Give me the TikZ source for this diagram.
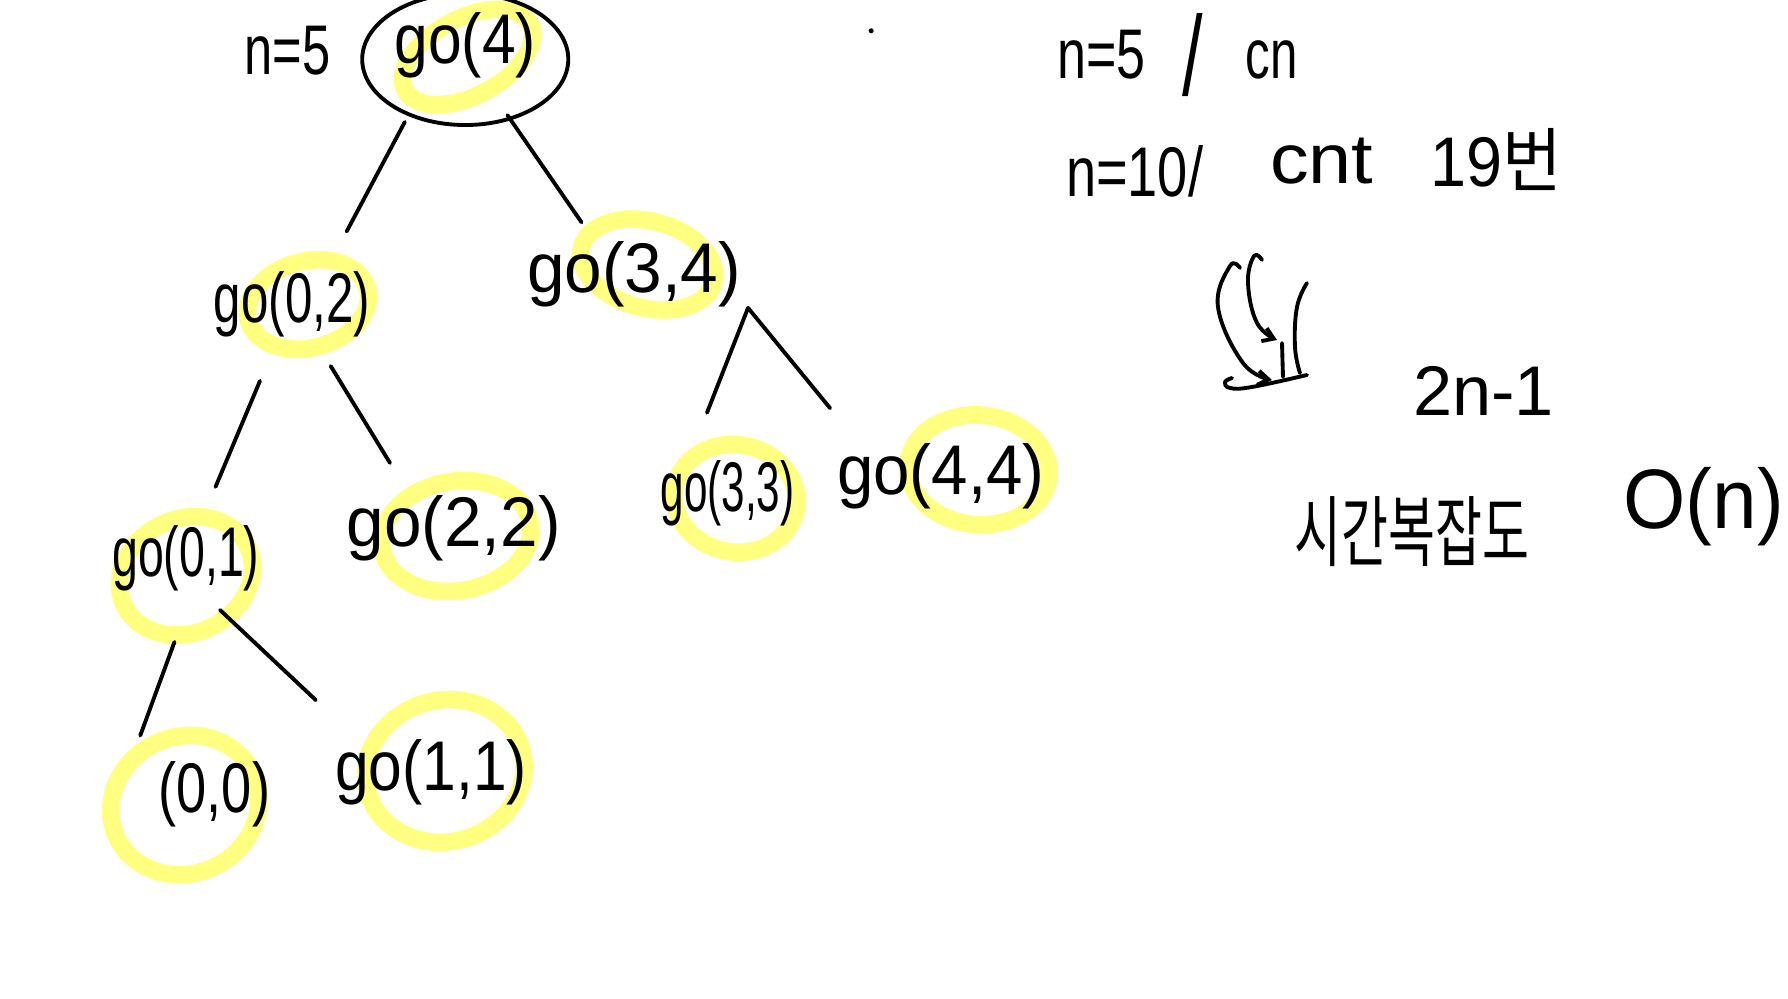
\documentclass[tikz,border=0pt]{standalone}
\usepackage{fontspec}
\usepackage{graphicx}
\setmainfont{Liberation Sans}
\newfontfamily\krfont{Noto Sans CJK KR}
\usetikzlibrary{shapes.geometric,arrows.meta,calc}
\definecolor{hlyellow}{HTML}{FFFF80}
\newcommand\hsq[2]{\scalebox{#1}[1]{#2}}
\begin{document}
\begin{tikzpicture}[x=0.011403cm,y=-0.011403cm,
  ink/.style={line width=1.1pt, line cap=round, line join=round},
  hl/.style={draw=hlyellow, line width=5pt},
  txt/.style={inner sep=0pt, font=\fontsize{20}{24}\selectfont},
  link/.style={ink}]
\fill[white] (0,0) rectangle (1568,876);
\useasboundingbox (0,0) rectangle (1568,876);

% yellow highlights
\draw[hl, rotate around={28:(410,50)}] (410,50) ellipse [x radius=62, y radius=34];
\draw[hl, rotate around={15:(270,267)}] (270,267) ellipse [x radius=54, y radius=38];
\draw[hl, rotate around={-15:(568,232)}] (568,232) ellipse [x radius=60, y radius=38];
\draw[hl, rotate around={25:(163,505)}] (163,505) ellipse [x radius=60, y radius=50];
\draw[hl, rotate around={10:(400,470)}] (400,470) ellipse [x radius=66, y radius=48];
\draw[hl, rotate around={-10:(645,437)}] (645,437) ellipse [x radius=54, y radius=47];
\draw[hl, rotate around={-5:(858,412)}] (858,412) ellipse [x radius=62, y radius=48];
\draw[hl, rotate around={25:(162,706)}] (162,706) ellipse [x radius=66, y radius=60];
\draw[hl, rotate around={15:(390,676)}] (390,676) ellipse [x radius=70, y radius=62];

% tree nodes
\node[txt] (n5l) at (252,44) {\hsq{0.72}{n=5}};
\node[draw, ellipse, ink, minimum width=2.06cm, minimum height=1.13cm, inner sep=0pt,
      font=\fontsize{20}{24}\selectfont, text depth=0.42cm] (root) at (408,52) {\hsq{0.86}{go(4)}};
\node[txt] (go02) at (256,267) {\hsq{0.70}{go(0,2)}};
\node[txt] (go34) at (556,241) {\hsq{0.96}{go(3,4)}};
\node[txt] (go01) at (163,490) {\hsq{0.66}{go(0,1)}};
\node[txt] (go22) at (398,463) {\hsq{0.96}{go(2,2)}};
\node[txt] (go33) at (638,433) {\hsq{0.60}{go(3,3)}};
\node[txt] (go44) at (825,418) {\hsq{0.93}{go(4,4)}};
\node[txt] (n00) at (188,697) {\hsq{0.77}{(0,0)}};
\node[txt] (go11) at (378,677) {\hsq{0.86}{go(1,1)}};

% connectors
\draw[link] ([shift={(-53,55)}]root.center) -- ([shift={(48,-64)}]go02.center);
\draw[link] ([shift={(37,49)}]root.center) -- ([shift={(-46,-46)}]go34.center);
\draw[link] ([shift={(-28,67)}]go02.center) -- ([shift={(26,-63)}]go01.center);
\draw[link] ([shift={(34,54)}]go02.center) -- ([shift={(-56,-57)}]go22.center);
\draw[link] ([shift={(100,29)}]go34.center) -- ([shift={(-18,-71)}]go33.center);
\draw[link] ([shift={(100,29)}]go34.center) -- ([shift={(-97,-60)}]go44.center);
\draw[link] ([shift={(-10,73)}]go01.center) -- ([shift={(-65,-52)}]n00.center);
\draw[link] ([shift={(30,45)}]go01.center) -- ([shift={(-101,-63)}]go11.center);

\fill (764,27) circle[radius=2.2];

% right-hand notes
\node[txt] (n5r) at (966,48) {\hsq{0.74}{n=5}};
\node[txt, font=\fontsize{14}{18}\selectfont] (sl1) at (1046,48) {\scalebox{1.5}[2.3]{/}};
\node[txt] (cn) at (1115,53) {\hsq{0.7}{cn}};
\node[txt] (n10) at (995,150) {\hsq{0.77}{n=10/}};
\node[txt] (cnt) at (1159,141) {\hsq{1.1}{cnt}};
\node[txt] (c19) at (1312,140) {\hsq{0.92}{19{\krfont 번}}};
\node[txt] (f2n) at (1301,343) {2n-1};
\node[txt, font=\krfont\fontsize{22}{26}\selectfont] (tc) at (1238,466) {\hsq{0.66}{시간복잡도}};
\node[txt, font=\fontsize{24}{28}\selectfont] (on) at (1494,444) {\hsq{0.95}{O(n)}};

% hand-drawn curved arrows
\begin{scope}[scale=0.87696, ink]
\draw[-{Straight Barb[length=3pt,width=4pt]}] plot[smooth, tension=0.7] coordinates
  {(1240,268) (1230,266) (1218,307) (1243,363) (1272,380)};
\draw[-{Straight Barb[length=3pt,width=4pt]}] plot[smooth, tension=0.7] coordinates
  {(1262,260) (1254,256) (1248,283) (1257,323) (1277,340)};
\draw (1282,343) -- (1283,377);
\draw plot[smooth, tension=0.7] coordinates {(1307,283) (1297,307) (1295,347) (1300,373)};
\draw plot[smooth, tension=0.7] coordinates {(1232,378) (1225,382) (1230,388) (1252,387) (1307,375)};
\end{scope}
\end{tikzpicture}
\end{document}
